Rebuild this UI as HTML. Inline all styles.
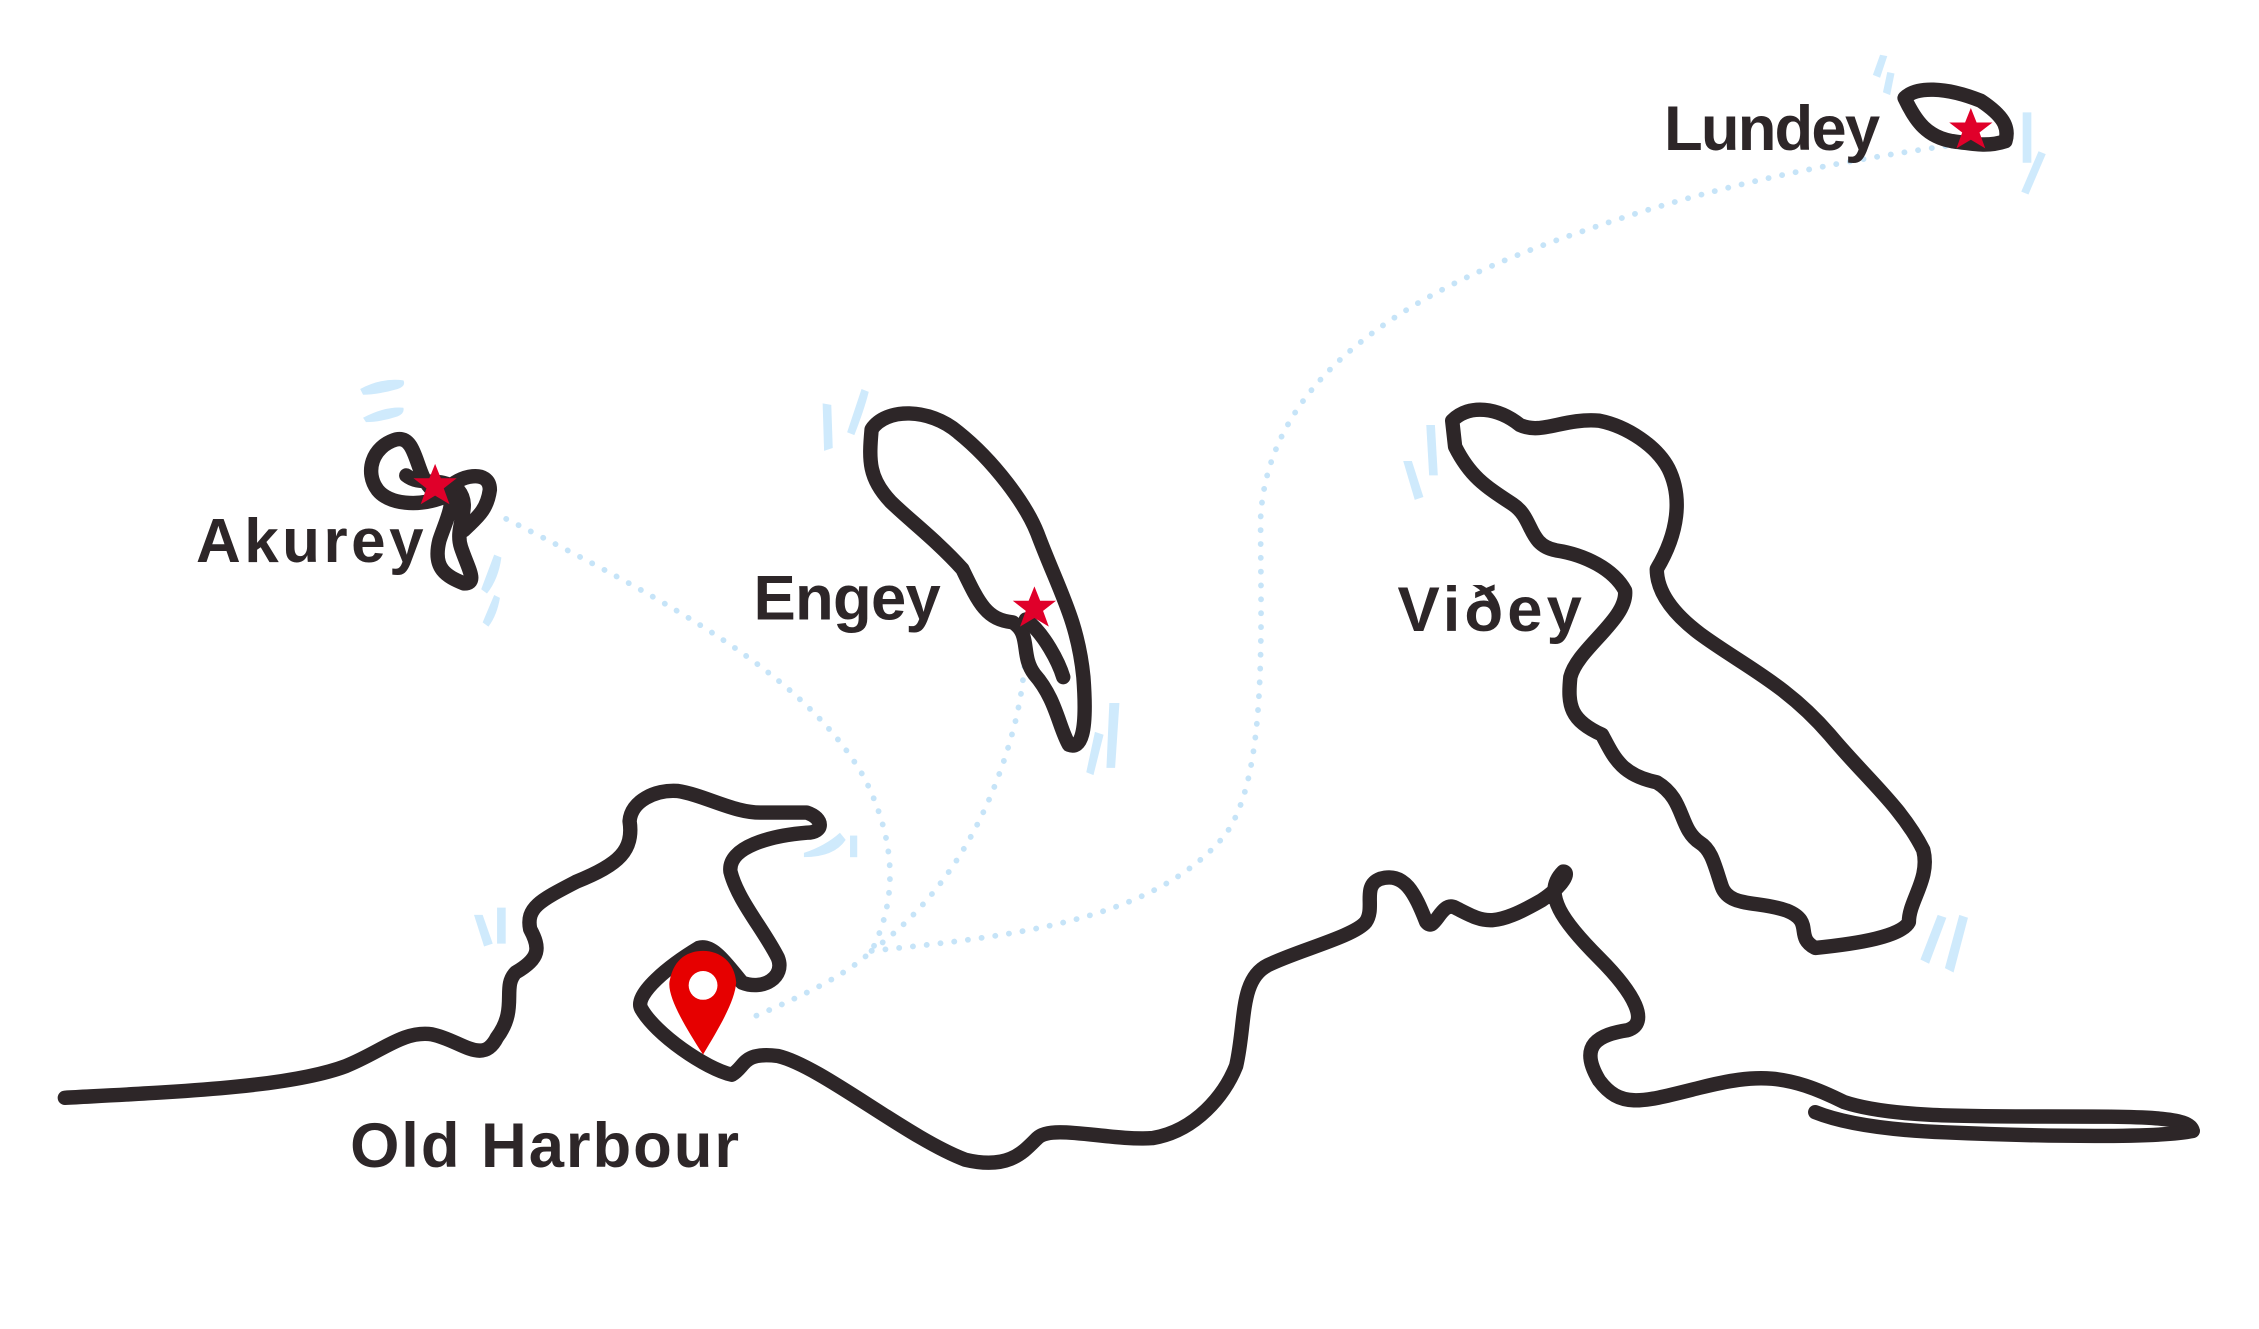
<!DOCTYPE html>
<html><head><meta charset="utf-8"><style>
html,body{margin:0;padding:0;background:#fff;}
svg{display:block;}
text{font-family:"Liberation Sans",sans-serif;font-weight:bold;fill:#2d2628;}
</style></head><body>
<svg width="2259" height="1329" viewBox="0 0 1568 922.5" xmlns="http://www.w3.org/2000/svg">
<g fill="none" stroke="#c6e4f8" stroke-width="4" stroke-linecap="round" stroke-dasharray="0.1 9.5">
<path d="M525,705 C560,690 590,675 605,660 C625,620 620,580 600,540 C560,470 470,420 345,357"/>
<path d="M605,660 C660,620 690,560 705,500 C712,470 712,450 712,430"/>
<path d="M605,660 C700,650 800,640 850,580 C880,540 875,440 875,360 C880,260 980,200 1100,160 C1200,125 1290,110 1360,100"/>
</g>
<g fill="#cfeafc">
<path d="M250,270 q15,-8 30,-6 q2,4 -4,6 q-14,4 -24,4z"/>
<path d="M252,290 q15,-8 28,-7 q1,4 -4,6 q-12,4 -22,4z"/>
<path d="M343,385 l5,2 q-2,15 -10,25 l-4,-3z"/>
<path d="M343,413 l4,2 q-2,12 -8,20 l-4,-3z"/>
<path d="M571,280 l6,1 l1,30 l-6,2z"/>
<path d="M598,270 l5,2 q-3,12 -10,30 l-5,-2z"/>
<path d="M770,488 l7,0 l-3,45 l-6,0z"/>
<path d="M760,508 l6,2 l-7,28 l-5,-2z"/>
<path d="M558,592 q15,-5 25,-14 l4,5 q-8,12 -29,12z"/>
<path d="M590,580 l5,0 l0,15 l-5,0z"/>
<path d="M329,635 l6,0 l7,20 l-6,2z"/>
<path d="M345,630 l6,0 l0,25 l-6,0z"/>
<path d="M974,320 l6,0 l8,25 l-6,2z"/>
<path d="M990,295 l6,0 l2,35 l-6,0z"/>
<path d="M1345,635 l6,2 l-12,32 l-6,-3z"/>
<path d="M1360,635 l6,2 l-10,38 l-6,-3z"/>
<path d="M1305,38 l5,1 l-5,15 l-5,-2z"/>
<path d="M1310,50 l5,1 l-3,15 l-5,-2z"/>
<path d="M1404,78 l6,0 l0,35 l-6,0z"/>
<path d="M1415,105 l5,2 l-12,28 l-5,-2z"/>
</g>
<g fill="none" stroke="#2d2628" stroke-width="10" stroke-linejoin="round" stroke-linecap="round">
<path d="M45,762 C120,758 200,755 240,740 C265,730 280,715 300,718 C320,722 335,740 345,720 C360,700 348,685 358,675 C375,665 375,658 368,645 C365,630 375,625 400,612 C430,600 440,590 437,570 C438,556 455,548 470,549 C490,552 510,565 530,564 L560,564 C572,568 572,578 560,578 C535,580 505,588 507,605 C512,625 530,645 540,665 C545,678 530,688 515,682 C505,670 495,655 485,658 C465,670 440,690 445,700 C455,718 490,742 508,746 C518,740 515,730 540,733 C570,740 630,790 670,805 C700,812 710,800 720,790 C730,780 770,792 800,790 C830,785 850,760 858,740 C865,710 860,680 880,670 C900,660 940,650 948,640 C955,630 945,615 958,610 C975,605 982,620 990,640 C996,648 1000,625 1010,630 C1030,640 1035,645 1070,625 C1085,615 1090,605 1085,605 C1070,620 1085,640 1110,665 C1135,690 1145,710 1130,715 C1110,718 1095,725 1110,750 C1125,770 1140,765 1180,755 C1220,745 1240,745 1280,765 C1310,775 1360,775 1420,775 C1490,775 1520,775 1522,785"/>
<path d="M1522,785 C1500,790 1420,789 1350,786 C1300,784 1275,778 1260,772"/>
<path d="M1008,292 C1020,280 1040,283 1055,295 C1070,302 1085,290 1110,292 C1130,296 1150,310 1158,325 C1168,345 1165,370 1150,395 C1150,410 1160,425 1180,440 C1210,462 1240,475 1270,510 C1295,540 1320,560 1335,590 C1340,610 1325,625 1325,640 C1320,650 1290,655 1260,658 C1245,650 1260,640 1240,632 C1220,625 1200,630 1195,615 C1190,600 1188,590 1180,585 C1165,575 1170,555 1150,543 C1125,538 1120,525 1112,510 C1090,500 1088,490 1090,470 C1095,450 1130,430 1128,410 C1120,395 1100,385 1080,382 C1060,378 1065,360 1050,350 C1030,337 1020,330 1010,310 Z"/>
<path d="M605,298 C615,283 645,283 665,300 C690,320 712,350 720,370 C735,410 748,430 752,470 C755,510 750,520 742,517 C735,505 733,485 718,468 C708,455 716,440 703,432 C685,430 680,420 668,395 C650,375 630,360 618,348 C603,332 603,320 605,298 Z"/>
<path d="M712,430 C725,440 735,460 738,470"/>
<path d="M282,330 C292,338 305,330 318,340 C328,352 315,365 320,380 C325,395 332,405 322,405 C310,400 300,395 305,375 C310,360 318,345 308,345 C290,352 270,350 262,340 C253,328 258,310 275,305 C290,302 288,330 300,340"/>
<path d="M310,340 C318,330 340,325 340,340 C338,355 330,360 322,368"/>
<path d="M1322,68 C1330,60 1350,60 1375,70 C1390,80 1395,88 1392,98 C1380,102 1370,100 1355,98 C1338,95 1330,85 1322,68 Z"/>
</g>
<g fill="#e0002a">
<path d="M302,322 l4,10 l11,0 l-9,7 l4,11 l-10,-6 l-10,6 l4,-11 l-9,-7 l11,0z"/>
<path d="M718,407 l4,10 l11,0 l-9,7 l4,11 l-10,-6 l-10,6 l4,-11 l-9,-7 l11,0z"/>
<path d="M1368,75 l4,10 l11,0 l-9,7 l4,11 l-10,-6 l-10,6 l4,-11 l-9,-7 l11,0z"/>
</g>
<path d="M488,732 C475,712 462,690 465,680 C468,665 478,660 488,660 C500,660 510,668 511,682 C510,695 500,712 488,732 Z" fill="#e60000"/>
<circle cx="488" cy="684" r="10" fill="#fff"/>
<text x="136" y="390" font-size="43" textLength="158" lengthAdjust="spacing">Akurey</text>
<text x="523" y="430" font-size="44" textLength="130" lengthAdjust="spacing">Engey</text>
<text x="970" y="438" font-size="44" textLength="128" lengthAdjust="spacing">Viðey</text>
<text x="1155" y="104" font-size="44" textLength="150" lengthAdjust="spacing">Lundey</text>
<text x="243" y="810" font-size="44" textLength="270" lengthAdjust="spacing">Old Harbour</text>
</svg>
</body></html>
